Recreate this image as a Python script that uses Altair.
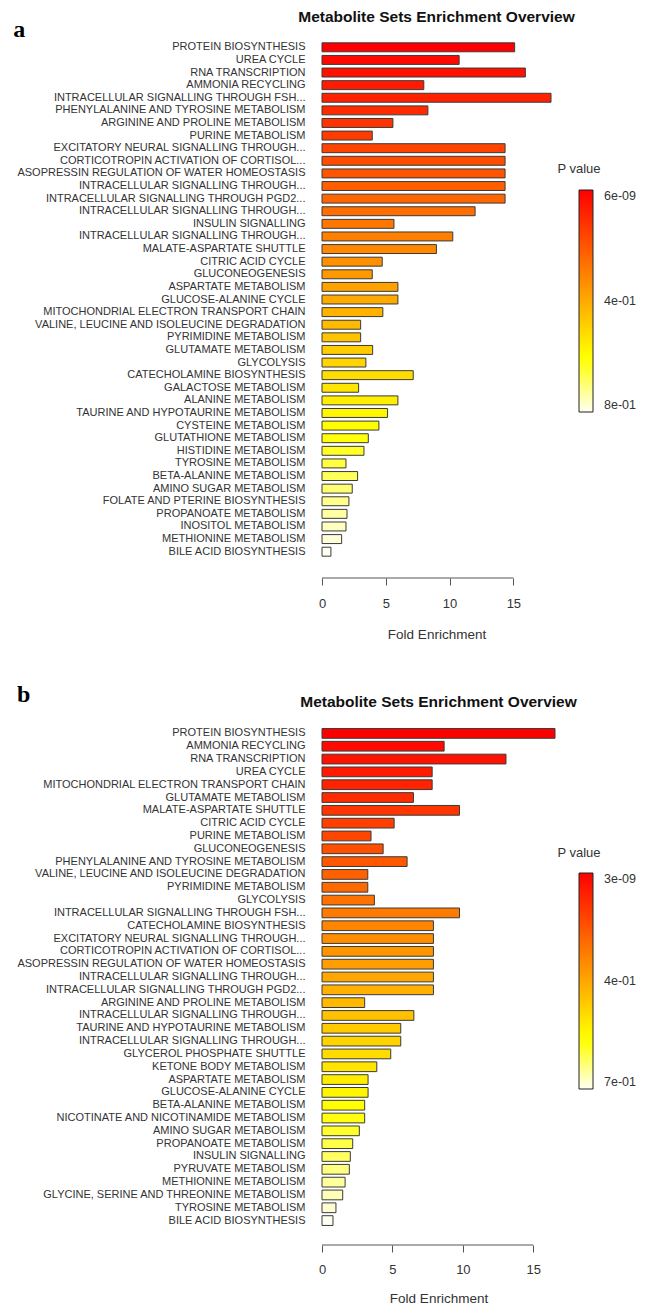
import altair as alt
import pandas as pd

# ---------------- data ----------------
a_names = [
    "PROTEIN BIOSYNTHESIS", "UREA CYCLE", "RNA TRANSCRIPTION", "AMMONIA RECYCLING",
    "INTRACELLULAR SIGNALLING THROUGH FSH...", "PHENYLALANINE AND TYROSINE METABOLISM",
    "ARGININE AND PROLINE METABOLISM", "PURINE METABOLISM",
    "EXCITATORY NEURAL SIGNALLING THROUGH...", "CORTICOTROPIN ACTIVATION OF CORTISOL...",
    "ASOPRESSIN REGULATION OF WATER HOMEOSTASIS", "INTRACELLULAR SIGNALLING THROUGH...",
    "INTRACELLULAR SIGNALLING THROUGH PGD2...", "INTRACELLULAR SIGNALLING THROUGH...",
    "INSULIN SIGNALLING", "INTRACELLULAR SIGNALLING THROUGH...", "MALATE-ASPARTATE SHUTTLE",
    "CITRIC ACID CYCLE", "GLUCONEOGENESIS", "ASPARTATE METABOLISM", "GLUCOSE-ALANINE CYCLE",
    "MITOCHONDRIAL ELECTRON TRANSPORT CHAIN", "VALINE, LEUCINE AND ISOLEUCINE DEGRADATION",
    "PYRIMIDINE METABOLISM", "GLUTAMATE METABOLISM", "GLYCOLYSIS", "CATECHOLAMINE BIOSYNTHESIS",
    "GALACTOSE METABOLISM", "ALANINE METABOLISM", "TAURINE AND HYPOTAURINE METABOLISM",
    "CYSTEINE METABOLISM", "GLUTATHIONE METABOLISM", "HISTIDINE METABOLISM",
    "TYROSINE METABOLISM", "BETA-ALANINE METABOLISM", "AMINO SUGAR METABOLISM",
    "FOLATE AND PTERINE BIOSYNTHESIS", "PROPANOATE METABOLISM", "INOSITOL METABOLISM",
    "METHIONINE METABOLISM", "BILE ACID BIOSYNTHESIS",
]
a_fold = [
    15.10, 10.75, 15.94, 7.98, 17.95, 8.30, 5.56, 3.94, 14.35, 14.35,
    14.35, 14.35, 14.35, 12.00, 5.64, 10.25, 8.97, 4.72, 3.94, 5.95,
    5.95, 4.77, 3.03, 3.03, 3.97, 3.44, 7.15, 2.87, 5.95, 5.14,
    4.46, 3.63, 3.29, 1.88, 2.79, 2.37, 2.11, 1.96, 1.88, 1.54, 0.70,
]
a_pvalue_labels = ["6e-09", "4e-01", "8e-01"]

b_names = [
    "PROTEIN BIOSYNTHESIS", "AMMONIA RECYCLING", "RNA TRANSCRIPTION", "UREA CYCLE",
    "MITOCHONDRIAL ELECTRON TRANSPORT CHAIN", "GLUTAMATE METABOLISM", "MALATE-ASPARTATE SHUTTLE",
    "CITRIC ACID CYCLE", "PURINE METABOLISM", "GLUCONEOGENESIS",
    "PHENYLALANINE AND TYROSINE METABOLISM", "VALINE, LEUCINE AND ISOLEUCINE DEGRADATION",
    "PYRIMIDINE METABOLISM", "GLYCOLYSIS", "INTRACELLULAR SIGNALLING THROUGH FSH...",
    "CATECHOLAMINE BIOSYNTHESIS", "EXCITATORY NEURAL SIGNALLING THROUGH...",
    "CORTICOTROPIN ACTIVATION OF CORTISOL...", "ASOPRESSIN REGULATION OF WATER HOMEOSTASIS",
    "INTRACELLULAR SIGNALLING THROUGH...", "INTRACELLULAR SIGNALLING THROUGH PGD2...",
    "ARGININE AND PROLINE METABOLISM", "INTRACELLULAR SIGNALLING THROUGH...",
    "TAURINE AND HYPOTAURINE METABOLISM", "INTRACELLULAR SIGNALLING THROUGH...",
    "GLYCEROL PHOSPHATE SHUTTLE", "KETONE BODY METABOLISM", "ASPARTATE METABOLISM",
    "GLUCOSE-ALANINE CYCLE", "BETA-ALANINE METABOLISM", "NICOTINATE AND NICOTINAMIDE METABOLISM",
    "AMINO SUGAR METABOLISM", "PROPANOATE METABOLISM", "INSULIN SIGNALLING",
    "PYRUVATE METABOLISM", "METHIONINE METABOLISM", "GLYCINE, SERINE AND THREONINE METABOLISM",
    "TYROSINE METABOLISM", "BILE ACID BIOSYNTHESIS",
]
b_fold = [
    16.54, 8.67, 13.06, 7.82, 7.82, 6.49, 9.76, 5.12, 3.48, 4.34,
    6.04, 3.25, 3.25, 3.72, 9.76, 7.91, 7.91, 7.91, 7.91, 7.91,
    7.91, 3.03, 6.52, 5.59, 5.59, 4.88, 3.89, 3.27, 3.27, 3.03,
    3.03, 2.65, 2.18, 2.01, 1.94, 1.64, 1.47, 0.99, 0.78,
]
b_pvalue_labels = ["3e-09", "4e-01", "7e-01"]

x_ticks = [0, 5, 10, 15]
panel_letters = ["a", "b"]
chart_title = "Metabolite Sets Enrichment Overview"
x_title = "Fold Enrichment"
legend_title = "P value"

SANS = "Liberation Sans"
TXT = "#333333"


def heat_colors(n):
    # the palette of R's heat.colors(n): red -> yellow, then yellow -> near white
    j = n // 4
    i = n - j
    cols = []
    for k in range(i):
        g = round(255 * k / (i - 1))
        cols.append(f"#ff{g:02x}00")
    s_hi, s_lo = 1 - 1 / (2 * j), 1 / (2 * j)
    for k in range(j):
        s = s_hi - k * (s_hi - s_lo) / (j - 1)
        cols.append(f"#ffff{round(255 * (1 - s)):02x}")
    return cols


def panel(names, folds, plabels, letter, px_unit, step, pad_inner, axis_off, lab_pad,
          tit_pad, letter_x, letter_y, title_offset, leg_x, leg_y, grad_len, leg_title_pad):
    n = len(names)
    df = pd.DataFrame({
        "key": [f"{i:02d}|{nm}" for i, nm in enumerate(names)],
        "fold": folds,
        "level": [n - 1 - i for i in range(n)],
    })
    xmax = max(folds)
    width = round(px_unit * xmax)
    height = round(step * n)
    mid = (n - 1) - (n - 1) // 2
    xscale = alt.Scale(domain=[0, xmax], nice=False, zero=True)
    cscale = alt.Scale(domain=[0, n - 1], range=list(reversed(heat_colors(n))),
                       interpolate="rgb", nice=False, zero=False)
    label_expr = (f"datum.value == {n - 1} ? '{plabels[0]}' : "
                  f"datum.value == {mid} ? '{plabels[1]}' : '{plabels[2]}'")

    bars = alt.Chart(df).mark_bar(stroke="#3a3a3a", strokeWidth=1).encode(
        x=alt.X("fold:Q", scale=xscale,
                axis=alt.Axis(values=x_ticks, domain=False, grid=False, ticks=True,
                              tickSize=7, tickColor="#555555", tickWidth=1,
                              offset=axis_off, labelPadding=lab_pad, labelFont=SANS,
                              labelFontSize=13, labelColor=TXT, labelFlush=False,
                              title=x_title, titleFont=SANS, titleFontSize=13.5,
                              titleFontWeight="normal", titleColor=TXT, titlePadding=tit_pad)),
        y=alt.Y("key:N", sort=None,
                scale=alt.Scale(paddingInner=pad_inner, paddingOuter=pad_inner / 2),
                axis=alt.Axis(labelExpr="slice(datum.label, 3)", ticks=False, domain=False,
                              labelPadding=17, labelFont=SANS, labelFontSize=11,
                              labelColor=TXT, labelLimit=400, title=None)),
        color=alt.Color("level:Q", scale=cscale,
                        legend=alt.Legend(orient="none", legendX=leg_x, legendY=leg_y,
                                          direction="vertical", gradientLength=grad_len,
                                          gradientThickness=14, gradientStrokeColor="#222222",
                                          gradientStrokeWidth=1, values=[0, mid, n - 1],
                                          labelExpr=label_expr, labelFont=SANS,
                                          labelFontSize=12.5, labelColor=TXT, labelOffset=11,
                                          labelBaseline="middle", title=legend_title,
                                          titleFont=SANS, titleFontSize=13,
                                          titleFontWeight="normal", titleColor=TXT,
                                          titleAnchor="start", titleAlign="center",
                                          titlePadding=leg_title_pad, padding=0)),
    )

    axis_line = alt.Chart(pd.DataFrame({"fold": [x_ticks[0]], "fold_end": [x_ticks[-1]]})).mark_rule(
        color="#555555", strokeWidth=1
    ).encode(
        x=alt.X("fold:Q", scale=xscale),
        x2="fold_end:Q",
        y=alt.value(height + axis_off),
    )

    letter_mark = alt.Chart(pd.DataFrame({"t": [letter]})).mark_text(
        font="Liberation Serif", fontWeight="bold", fontSize=24, align="left",
        baseline="alphabetic", color="#000000"
    ).encode(text="t:N", x=alt.value(letter_x), y=alt.value(letter_y))

    return alt.layer(bars, axis_line, letter_mark).properties(
        width=width, height=height,
        title=alt.TitleParams(text=chart_title, anchor="middle", frame="group", font=SANS,
                              fontSize=15.5, fontWeight="bold", color="#111111",
                              offset=title_offset),
    )


pa = panel(a_names, a_fold, a_pvalue_labels, panel_letters[0], px_unit=12.78, step=12.62,
           pad_inner=0.29, axis_off=20, lab_pad=12, tit_pad=17,
           letter_x=-308.7, letter_y=-4, title_offset=-7.5,
           leg_x=235, leg_y=122.4, grad_len=222, leg_title_pad=13.6)
pb = panel(b_names, b_fold, b_pvalue_labels, panel_letters[1], px_unit=14.07, step=12.82,
           pad_inner=0.24, axis_off=18, lab_pad=11, tit_pad=15,
           letter_x=-305, letter_y=-25, title_offset=-27.1,
           leg_x=235, leg_y=120.4, grad_len=216, leg_title_pad=12.6)

chart = alt.vconcat(pa, pb, spacing=42).resolve_scale(
    color="independent"
).resolve_legend(
    color="independent"
).properties(
    padding={"left": 5, "top": 2, "right": 0, "bottom": 0},
    background="white",
).configure_view(strokeWidth=0)

chart.save("out.html", embed_options={"renderer": "svg", "actions": False})
